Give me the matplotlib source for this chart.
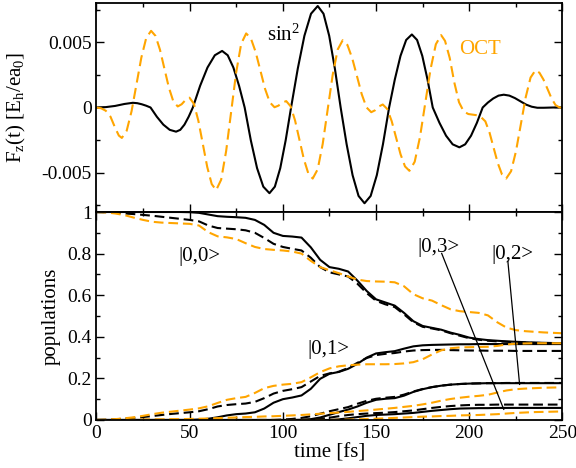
import numpy as np
import matplotlib
matplotlib.use("Agg")
import matplotlib.pyplot as plt
from matplotlib.ticker import MultipleLocator, FixedLocator, FixedFormatter

plt.rcParams['font.family'] = 'serif'
plt.rcParams['font.serif'] = ['Liberation Serif', 'DejaVu Serif']
plt.rcParams['mathtext.fontset'] = 'custom'
plt.rcParams['mathtext.rm'] = 'Liberation Serif'
plt.rcParams['mathtext.it'] = 'Liberation Serif:italic'
plt.rcParams['mathtext.bf'] = 'Liberation Serif:bold'
plt.rcParams['axes.unicode_minus'] = False
plt.rcParams['lines.scale_dashes'] = False

ORANGE = '#FFA500'

# ---- laser fields [Eh/ea0] ----
t_sin2 = [0, 5, 10, 15, 19.5,
          21.9, 24.25, 26.6, 29,
          32.4, 35.85, 39.3, 42.7,
          44.95, 47.2, 49.45, 51.7,
          55.6, 59.55, 63.5, 67.4,
          70.4, 73.45, 76.5, 79.5,
          82.8, 86.15, 89.5, 92.8,
          95.7, 98.6, 101.5, 104.4,
          108, 111.55, 115.1, 118.7,
          121.8, 124.85, 127.9, 131,
          134.2, 137.4, 140.6, 143.8,
          147.1, 150.4, 153.7, 157,
          160.05, 163.1, 166.15, 169.2,
          172, 174.8, 177.6, 180.4,
          184, 187.55, 191.1, 194.7,
          197.8, 200.95, 204.1, 207.2,
          210, 212.85, 215.7, 218.5,
          221.5, 224.5, 227.5, 230.5, 233.5, 236.5, 240, 245, 250]
f_sin2 = [0, 0.00003, 0.00012, 0.00027, 0.00036,
          0.00033, 0.00025, 0.00014, 0,
          -0.00071, -0.00131, -0.00171, -0.00185,
          -0.00171, -0.00131, -0.00071, 0,
          0.00166, 0.00306, 0.004, 0.00433,
          0.004, 0.00306, 0.00166, 0,
          -0.00251, -0.00464, -0.00606, -0.00656,
          -0.00606, -0.00464, -0.00251, 0,
          0.00298, 0.00549, 0.00718, 0.00777,
          0.00718, 0.00549, 0.00298, 0,
          -0.00281, -0.00518, -0.00677, -0.00733,
          -0.00677, -0.00518, -0.00281, 0,
          0.00214, 0.00395, 0.00517, 0.00559,
          0.00517, 0.00395, 0.00214, 0,
          -0.00117, -0.00216, -0.00282, -0.00305,
          -0.00282, -0.00216, -0.00117, 0,
          0.00038, 0.00069, 0.00091, 0.00098,
          0.00091, 0.00072, 0.00047, 0.00022, 0.00006, -0.00002, -0.00002, 0, 0]

t_oct = [0, 2.5, 5, 7.5, 10, 12, 13.6,
         16.2, 18.83, 21.45, 24.07, 26.68, 29.3,
         31.68, 34.07, 36.45, 38.83, 41.22, 43.6,
         45.7, 47.8, 49.9,
         52.28, 54.67, 57.05, 59.43, 61.82, 64.2,
         66.88, 69.57, 72.25, 74.93, 77.62, 80.3,
         82.83, 85.37, 87.9, 90.43, 92.97, 95.5,
         97.6, 99.7, 101.8,
         104.17, 106.53, 108.9, 111.27, 113.63, 116,
         118.68, 121.37, 124.05, 126.73, 129.42, 132.1,
         134.65, 137.2, 139.75, 142.3, 144.85, 147.4,
         149.5, 151.5, 153.6,
         155.98, 158.37, 160.75, 163.13, 165.52, 167.9,
         170.73, 173.57, 176.4, 179.23, 182.07, 184.9,
         187, 189.5, 192, 194.5, 197, 199.5, 202, 204.5, 206.4,
         208.63, 210.87, 213.1, 215.33, 217.57, 219.8,
         222.42, 225.03, 227.65, 230.27, 232.88, 235.5,
         237.65, 239.8, 241.95, 244.1, 246.25, 248.4, 250]
f_oct = [0, -0.00006, -0.00025, -0.0007, -0.00155, -0.00215, -0.00233,
         -0.00178, -0.00028, 0.00177, 0.00382, 0.00532, 0.00587,
         0.00548, 0.00442, 0.00297, 0.00153, 0.00047, 0.00008,
         0.00025, 0.00058, 0.00075,
         0.00028, -0.00102, -0.00279, -0.00456, -0.00586, -0.00633,
         -0.00553, -0.00333, -0.00033, 0.00267, 0.00487, 0.00567,
         0.00529, 0.00426, 0.00285, 0.00143, 0.0004, 0.00002,
         0.00014, 0.00037, 0.00049,
         0.00009, -0.00099, -0.00248, -0.00396, -0.00504, -0.00544,
         -0.00473, -0.00279, -0.00014, 0.0025, 0.00444, 0.00515,
         0.00478, 0.00377, 0.0024, 0.00102, 0.00001, -0.00036,
         -0.00021, 0.00008, 0.00023,
         -0.00011, -0.00104, -0.00231, -0.00358, -0.00451, -0.00485,
         -0.00415, -0.00225, 0.00035, 0.00294, 0.00484, 0.00554,
         0.0051, 0.0038, 0.0019, 0.0004, -0.0003, -0.0005, -0.00055, -0.0006, -0.00075,
         -0.00106, -0.00192, -0.0031, -0.00427, -0.00513, -0.00544,
         -0.00488, -0.00337, -0.0013, 0.00078, 0.00229, 0.00285,
         0.00266, 0.00214, 0.00143, 0.00071, 0.00019, 0, 0]

# ---- populations, sampled every 5 fs ----
t_pop = np.arange(0, 255, 5)

# sin^2 pulse (black solid)
sin2_00 = [1, 1, 1, 1, 1, 1, 1, 1, 1, 1,
           0.999, 0.996, 0.988, 0.98, 0.977, 0.975, 0.972, 0.962, 0.938, 0.9,
           0.885, 0.882, 0.877, 0.83, 0.77, 0.735, 0.727, 0.714, 0.67, 0.62,
           0.58, 0.565, 0.55, 0.515, 0.475, 0.452, 0.443, 0.434, 0.42, 0.409,
           0.396, 0.389, 0.384, 0.381, 0.378, 0.376, 0.374, 0.372, 0.371, 0.37, 0.369]
sin2_01 = [0] * 11 + [0.002, 0.006, 0.013, 0.022, 0.028, 0.031, 0.037, 0.055, 0.083,
           0.1, 0.108, 0.118, 0.15, 0.198, 0.222, 0.231, 0.246, 0.27, 0.3,
           0.32, 0.326, 0.331, 0.343, 0.354, 0.359, 0.361, 0.362, 0.363, 0.364,
           0.364, 0.365, 0.365, 0.365, 0.365, 0.365, 0.365, 0.365, 0.365, 0.365, 0.365]
sin2_02 = [0] * 22 + [0.001, 0.004, 0.012, 0.025, 0.038, 0.05, 0.065, 0.083,
           0.097, 0.102, 0.105, 0.117, 0.135, 0.148, 0.158, 0.165, 0.17, 0.173,
           0.175, 0.176, 0.177, 0.177, 0.177, 0.177, 0.177, 0.177, 0.177, 0.177, 0.177]
sin2_03 = [0] * 26 + [0.003, 0.008, 0.014, 0.02,
           0.024, 0.026, 0.028, 0.031, 0.034, 0.039, 0.044, 0.048, 0.052, 0.055,
           0.056, 0.057, 0.057, 0.058, 0.058, 0.058, 0.058, 0.058, 0.058, 0.058, 0.058]

# second reference pulse (black dashed)
ref_00 = [1, 0.999, 0.997, 0.993, 0.99, 0.986, 0.982, 0.977, 0.972, 0.967,
          0.962, 0.955, 0.935, 0.923, 0.92, 0.917, 0.912, 0.9, 0.875, 0.847,
          0.832, 0.823, 0.815, 0.78, 0.735, 0.71, 0.7, 0.69, 0.655, 0.61,
          0.573, 0.556, 0.543, 0.508, 0.47, 0.448, 0.44, 0.431, 0.417, 0.405,
          0.393, 0.386, 0.381, 0.378, 0.376, 0.374, 0.372, 0.371, 0.37, 0.369, 0.368]
ref_01 = [0, 0.001, 0.003, 0.007, 0.01, 0.014, 0.019, 0.024, 0.029, 0.033,
          0.037, 0.042, 0.052, 0.065, 0.072, 0.076, 0.079, 0.087, 0.105, 0.127,
          0.14, 0.148, 0.158, 0.185, 0.212, 0.224, 0.232, 0.25, 0.275, 0.298,
          0.312, 0.318, 0.322, 0.329, 0.334, 0.336, 0.337, 0.337, 0.336, 0.335,
          0.334, 0.334, 0.333, 0.333, 0.333, 0.332, 0.332, 0.332, 0.332, 0.332, 0.332]
ref_02 = [0] * 20 + [0.002, 0.005, 0.01, 0.018, 0.03, 0.042, 0.052, 0.062, 0.078, 0.092,
          0.102, 0.107, 0.111, 0.122, 0.137, 0.149, 0.158, 0.165, 0.17, 0.173,
          0.175, 0.176, 0.177, 0.177, 0.178, 0.178, 0.178, 0.178, 0.178, 0.178, 0.178]
ref_03 = [0] * 23 + [0.002, 0.006, 0.011, 0.018, 0.024, 0.028, 0.031,
          0.033, 0.035, 0.038, 0.042, 0.046, 0.052, 0.058, 0.063, 0.067, 0.07,
          0.072, 0.073, 0.073, 0.074, 0.074, 0.074, 0.074, 0.074, 0.074, 0.074, 0.074]

# optimal control pulse (orange dashed)
oct_00 = [1, 0.998, 0.993, 0.985, 0.973, 0.962, 0.953, 0.949, 0.947, 0.945,
          0.943, 0.935, 0.903, 0.883, 0.878, 0.87, 0.85, 0.832, 0.822, 0.818,
          0.815, 0.81, 0.8, 0.765, 0.735, 0.72, 0.706, 0.69, 0.675, 0.668,
          0.666, 0.665, 0.662, 0.643, 0.605, 0.585, 0.574, 0.552, 0.532, 0.523,
          0.519, 0.515, 0.503, 0.47, 0.444, 0.432, 0.427, 0.424, 0.421, 0.419, 0.417]
oct_01 = [0, 0.001, 0.004, 0.008, 0.013, 0.02, 0.028, 0.035, 0.04, 0.045,
          0.05, 0.056, 0.066, 0.082, 0.097, 0.105, 0.111, 0.13, 0.153, 0.164,
          0.17, 0.174, 0.182, 0.205, 0.23, 0.248, 0.258, 0.263, 0.266, 0.268,
          0.268, 0.268, 0.269, 0.272, 0.278, 0.292, 0.315, 0.335, 0.345, 0.349,
          0.35, 0.351, 0.352, 0.356, 0.363, 0.367, 0.368, 0.369, 0.369, 0.369, 0.369]
oct_02 = [0, 0, 0.001, 0.001, 0.002, 0.002, 0.003, 0.003, 0.004, 0.004,
          0.005, 0.006, 0.007, 0.009, 0.011, 0.012, 0.014, 0.015, 0.017, 0.018,
          0.02, 0.022, 0.024, 0.027, 0.03, 0.033, 0.036, 0.039, 0.043, 0.046,
          0.05, 0.054, 0.058, 0.063, 0.068, 0.075, 0.083, 0.093, 0.101, 0.107,
          0.112, 0.116, 0.121, 0.132, 0.142, 0.148, 0.151, 0.153, 0.155, 0.156, 0.157]
oct_03 = [0] * 26 + [0.001, 0.002, 0.003, 0.005,
          0.006, 0.008, 0.01, 0.012, 0.014, 0.016, 0.017, 0.019, 0.02, 0.022,
          0.023, 0.024, 0.026, 0.028, 0.031, 0.034, 0.036, 0.038, 0.039, 0.04, 0.041]


fig = plt.figure(figsize=(5.76, 4.68), dpi=100)
ax1 = fig.add_axes([0.1675, 0.5470, 0.8090, 0.4466])
ax2 = fig.add_axes([0.1675, 0.1026, 0.8090, 0.4444])

for ax in (ax1, ax2):
    ax.tick_params(which='both', direction='in', top=True, right=True, labelsize=14)
    ax.tick_params(which='major', length=6, width=1)
    ax.tick_params(which='minor', length=3, width=1)
    for s in ax.spines.values():
        s.set_linewidth(1.3)
    ax.set_xlim(0, 250)
    ax.xaxis.set_major_locator(MultipleLocator(50))
    ax.xaxis.set_minor_locator(MultipleLocator(25))

# top panel: the two pulses
ax1.plot(t_sin2, f_sin2, color='black', lw=1.5, solid_joinstyle='round')
ax1.plot(t_oct, f_oct, color=ORANGE, lw=1.5, dashes=(8, 4))
ax1.set_ylim(-0.008, 0.008)
ax1.yaxis.set_major_locator(FixedLocator([-0.005, 0, 0.005]))
ax1.yaxis.set_major_formatter(FixedFormatter(['-0.005', '0', '0.005']))
ax1.yaxis.set_minor_locator(MultipleLocator(0.0025))
ax1.tick_params(labelbottom=False)
ax1.set_ylabel(r'F$_\mathrm{z}$(t) [E$_\mathrm{h}$/ea$_\mathrm{0}$]', fontsize=15)
ax1.yaxis.set_label_coords(-0.146, 0.5)
ax1.text(91.7, 0.0051, r'sin$^\mathrm{2}$', fontsize=15)
ax1.text(194.7, 0.0041, 'OCT', fontsize=15, color=ORANGE)

# bottom panel: state populations
for y in (sin2_00, sin2_01, sin2_02, sin2_03):
    ax2.plot(t_pop, y, color='black', lw=1.5, solid_joinstyle='round')
for y in (ref_00, ref_01, ref_02, ref_03):
    ax2.plot(t_pop, y, color='black', lw=1.5, dashes=(7, 3.5))
for y in (oct_00, oct_01, oct_02, oct_03):
    ax2.plot(t_pop, y, color=ORANGE, lw=1.5, dashes=(7, 3.5))

ax2.set_ylim(0, 1)
ax2.yaxis.set_major_locator(FixedLocator([0, 0.2, 0.4, 0.6, 0.8, 1]))
ax2.yaxis.set_major_formatter(FixedFormatter(['0', '0.2', '0.4', '0.6', '0.8', '1']))
ax2.yaxis.set_minor_locator(MultipleLocator(0.1))
ax2.set_ylabel('populations', fontsize=15)
ax2.yaxis.set_label_coords(-0.077, 0.5)
ax2.set_xlabel('time [fs]', fontsize=15, labelpad=1)

ax2.text(55.5, 0.786, '|0,0>', fontsize=15, ha='center', va='center')
ax2.text(124.4, 0.337, '|0,1>', fontsize=15, ha='center', va='center')
ax2.text(183.5, 0.829, '|0,3>', fontsize=15, ha='center', va='center')
ax2.text(223, 0.796, '|0,2>', fontsize=15, ha='center', va='center')
ax2.plot([185.2, 218.5], [0.801, 0.051], color='black', lw=0.9)
ax2.plot([220.7, 227], [0.764, 0.171], color='black', lw=0.9)

fig.savefig('out.png', dpi=100)
